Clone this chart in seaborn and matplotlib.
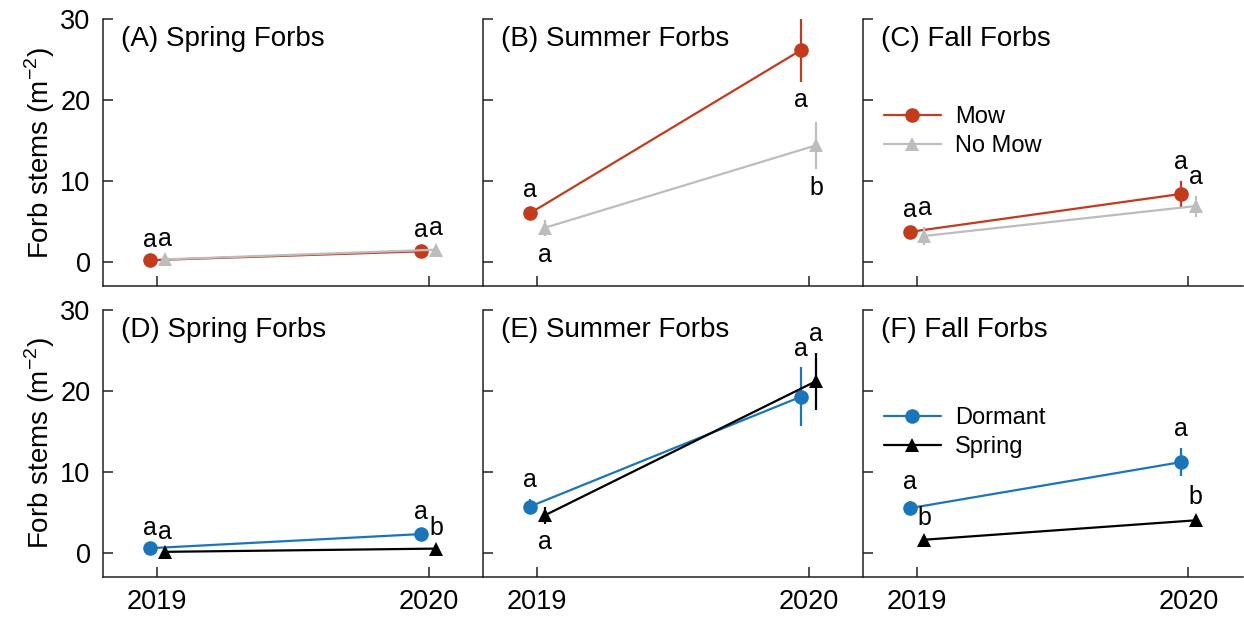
import numpy as np
import pandas as pd
import matplotlib
matplotlib.use("Agg")
import matplotlib.pyplot as plt
from matplotlib.lines import Line2D
import seaborn as sns

# ---- data ----
years = ["2019", "2020"]
panel_labels = ["(A) Spring Forbs", "(B) Summer Forbs", "(C) Fall Forbs",
                "(D) Spring Forbs", "(E) Summer Forbs", "(F) Fall Forbs"]

# top row: mowing
mow_mean = [[0.2, 1.3], [6.0, 26.2], [3.7, 8.4]]
mow_se = [[0.2, 0.3], [0.5, 3.9], [0.4, 1.6]]
nomow_mean = [[0.3, 1.5], [4.2, 14.4], [3.2, 6.9]]
nomow_se = [[0.2, 0.3], [1.0, 2.9], [1.1, 1.3]]
mow_letters = [["a", "a"], ["a", "a"], ["a", "a"]]
nomow_letters = [["a", "a"], ["a", "b"], ["a", "a"]]

# bottom row: burn timing
dormant_mean = [[0.55, 2.3], [5.7, 19.3], [5.5, 11.2]]
dormant_se = [[0.2, 0.4], [0.9, 3.6], [0.9, 1.7]]
spring_mean = [[0.1, 0.5], [4.6, 21.2], [1.6, 4.0]]
spring_se = [[0.1, 0.2], [1.0, 3.5], [0.3, 0.6]]
dormant_letters = [["a", "a"], ["a", "a"], ["a", "a"]]
spring_letters = [["a", "b"], ["a", "a"], ["b", "b"]]

# letter placement (1 = above error bar, -1 = below)
mow_side = [[1, 1], [1, -1], [1, 1]]
nomow_side = [[1, 1], [-1, -1], [1, 1]]
dormant_side = [[1, 1], [1, 1], [1, 1]]
spring_side = [[1, 1], [-1, 1], [1, 1]]

groups = {
    "Mow": dict(mean=mow_mean, se=mow_se, let=mow_letters, side=mow_side,
                color="#C23B1C", marker="o", off=-0.027, row=0),
    "No Mow": dict(mean=nomow_mean, se=nomow_se, let=nomow_letters, side=nomow_side,
                   color="#BDBDBD", marker="^", off=0.027, row=0),
    "Dormant": dict(mean=dormant_mean, se=dormant_se, let=dormant_letters, side=dormant_side,
                    color="#1B75BB", marker="o", off=-0.027, row=1),
    "Spring": dict(mean=spring_mean, se=spring_se, let=spring_letters, side=spring_side,
                   color="#000000", marker="^", off=0.027, row=1),
}

rows = []
for g, d in groups.items():
    for p in range(3):
        for i, yr in enumerate(years):
            rows.append(dict(group=g, row=d["row"], col=p, year=yr,
                             x=i + d["off"], mean=d["mean"][p][i], se=d["se"][p][i],
                             letter=d["let"][p][i], side=d["side"][p][i]))
df = pd.DataFrame(rows)

sns.set_style("ticks")
plt.rcParams["font.family"] = ["Liberation Sans", "DejaVu Sans"]
plt.rcParams["mathtext.fontset"] = "custom"
plt.rcParams["mathtext.rm"] = "Liberation Sans"
plt.rcParams["axes.linewidth"] = 1.1
plt.rcParams["axes.edgecolor"] = "#222222"
plt.rcParams["text.color"] = "black"
plt.rcParams["axes.labelcolor"] = "black"

fig, axes = plt.subplots(2, 3, figsize=(12.44, 6.21), dpi=100, sharex=True, sharey=True)
fig.subplots_adjust(left=0.0828, right=0.999, top=0.969, bottom=0.071, wspace=0, hspace=0.09)

pal = {g: d["color"] for g, d in groups.items()}
mk = {g: d["marker"] for g, d in groups.items()}

for r in range(2):
    for c in range(3):
        ax = axes[r, c]
        sub = df[(df.row == r) & (df.col == c)]
        for g in sub.group.unique():
            s = sub[sub.group == g]
            sns.lineplot(data=s, x="x", y="mean", color=pal[g], marker=mk[g],
                         markersize=10.5, markeredgewidth=0, linewidth=1.6,
                         ax=ax, legend=False, errorbar=None)
            ax.errorbar(s.x, s["mean"], yerr=s.se, fmt="none", ecolor=pal[g],
                        elinewidth=1.6, capsize=0)
            for _, rw in s.iterrows():
                yy = rw["mean"] + rw.side * rw.se
                ax.annotate(rw.letter, (rw.x, yy), xytext=(0, 5 * rw.side),
                            textcoords="offset points", ha="center",
                            va="bottom" if rw.side > 0 else "top", fontsize=18)
        ax.text(0.047, 0.925, panel_labels[r * 3 + c], transform=ax.transAxes,
                fontsize=20, va="center", ha="left")
        ax.set_xlim(-0.2, 1.2)
        ax.set_ylim(-3, 30)
        ax.set_xticks([0, 1])
        ax.set_xticklabels(years)
        ax.set_yticks([0, 10, 20, 30])
        ax.tick_params(direction="in", length=7, width=1.1, labelsize=19.5, colors="#222222",
                       labelcolor="black", pad=9)
        ax.set_xlabel("")
        ax.set_ylabel("")
        sns.despine(ax=ax)
        if c == 0:
            ax.set_ylabel("Forb stems (m$^{\\mathregular{-2}}$)", fontsize=20, labelpad=2)

# legends
for ax, names, ypos in [(axes[0, 2], ["Mow", "No Mow"], 0.755), (axes[1, 2], ["Dormant", "Spring"], 0.715)]:
    handles = [Line2D([0], [0], color=pal[n], marker=mk[n], markersize=10.5,
                      markeredgewidth=0, linewidth=1.6) for n in names]
    ax.legend(handles, names, loc="upper left", bbox_to_anchor=(0.0, ypos), frameon=False,
              fontsize=17, handlelength=2.4, labelspacing=0.3, handletextpad=0.6)

fig.savefig("out.png", dpi=100)
